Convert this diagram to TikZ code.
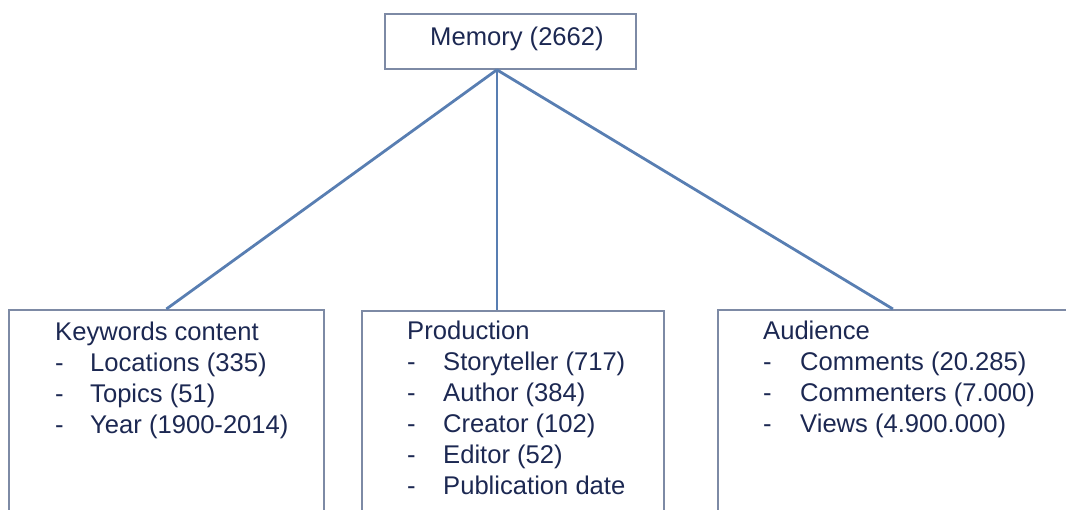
\documentclass[tikz,border=0pt]{standalone}
\usepackage{fontspec}
\setmainfont{Liberation Sans}
\definecolor{ink}{RGB}{28,40,82}
\definecolor{boxline}{RGB}{125,138,165}
\definecolor{linkblue}{RGB}{88,126,178}
\tikzset{
  lbl/.style={anchor=base west, inner sep=0pt, text=ink, font=\fontsize{25.6}{31}\selectfont},
  box/.style={draw=boxline, line width=1.8pt, anchor=north west, inner sep=0pt},
  link/.style={draw=linkblue, line width=2.8pt}
}
\begin{document}
\begin{tikzpicture}[x=1pt, y=-1pt]
  \path[use as bounding box, clip] (0,0) rectangle (1066,509);

  % boxes (the lower three run past the bottom edge)
  \node[box, minimum width=251pt, minimum height=55pt] (top) at (384,13) {};
  \node[box, minimum width=315pt, minimum height=240pt] (kw) at (8,309) {};
  \node[box, minimum width=302pt, minimum height=240pt] (mid) at (361,310) {};
  \node[box, minimum width=350pt, minimum height=240pt] (aud) at (717,309) {};

  % connectors from the root
  \coordinate (hub) at ([xshift=-13.5pt]top.south);
  \draw[link] (hub) -- (kw.north);
  \draw[link] (hub) -- (hub |- mid.north);
  \draw[link] (hub) -- (aud.north);

  % root label
  \node[lbl] (memory) at (430,45) {Memory (2662)};

  % keywords content
  \node[lbl] (kwt) at (55,340) {Keywords content};
  \foreach \t [count=\i] in {Locations (335), Topics (51), Year (1900-2014)} {
    \node[lbl] (kwd\i) at (55,340+31*\i) {-};
    \node[lbl] (kwi\i) at (90,340+31*\i) {\t};
  }

  % production
  \node[lbl] (prt) at (407,339) {Production};
  \foreach \t [count=\i] in {Storyteller (717), Author (384), Creator (102), Editor (52), Publication date} {
    \node[lbl] (prd\i) at (407,339+31*\i) {-};
    \node[lbl] (pri\i) at (443,339+31*\i) {\t};
  }

  % audience
  \node[lbl] (aut) at (763,339) {Audience};
  \foreach \t [count=\i] in {Comments (20.285), Commenters (7.000), Views (4.900.000)} {
    \node[lbl] (aud\i) at (763,339+31*\i) {-};
    \node[lbl] (aui\i) at (800,339+31*\i) {\t};
  }
\end{tikzpicture}
\end{document}
